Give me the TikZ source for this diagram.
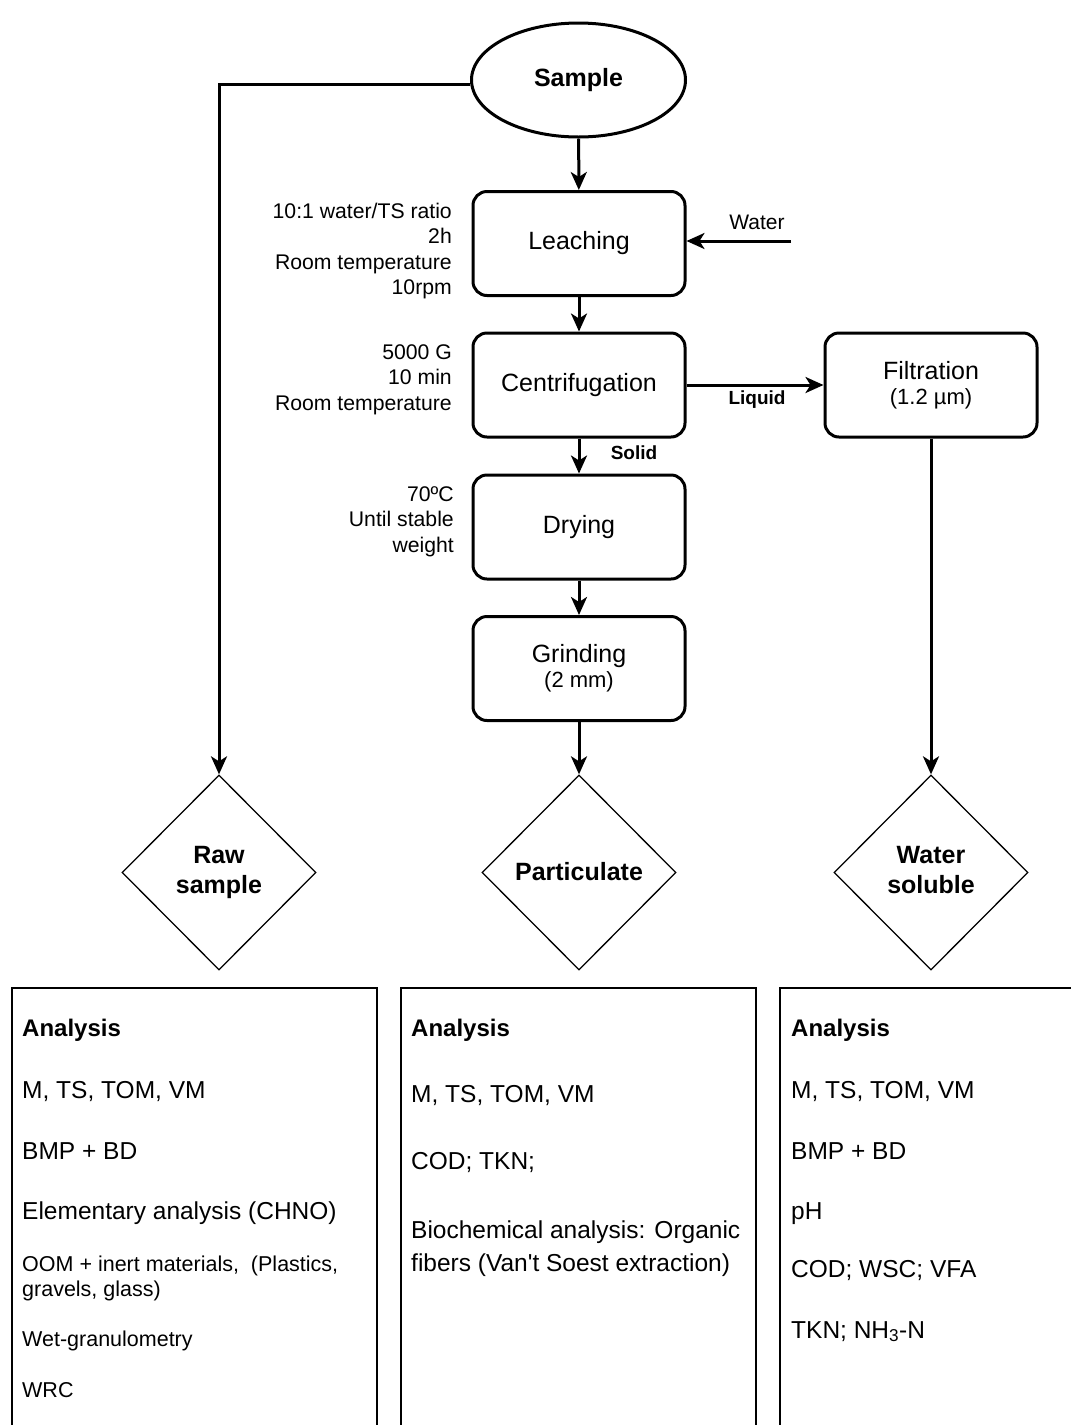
\documentclass[tikz,border=0pt]{standalone}
\usepackage{fontspec}
\setmainfont{Liberation Sans}
\usetikzlibrary{shapes.geometric,arrows.meta}
\begin{document}
\begin{tikzpicture}[x=1pt,y=-1pt,
  proc/.style={draw,line width=3pt,rounded corners=14pt,minimum width=212pt,minimum height=104pt,align=center,font=\fontsize{25}{28}\selectfont},
  dia/.style={draw,line width=1.3pt,diamond,inner sep=0pt,minimum width=194pt,minimum height=195pt,align=center,font=\fontsize{25}{30}\selectfont\bfseries},
  side/.style={anchor=east,align=right,font=\fontsize{21.2}{25.3}\selectfont},
  flow/.style={line width=3pt,-{Stealth[length=18pt,width=16pt,inset=5pt]}},
  tag/.style={font=\fontsize{19}{22}\selectfont\bfseries},
  boxline/.style={line width=1.3pt},
  big/.style={anchor=base west,inner sep=0pt,font=\fontsize{24.5}{28}\selectfont},
  small/.style={anchor=base west,inner sep=0pt,font=\fontsize{21.5}{25}\selectfont},
  head/.style={anchor=base west,inner sep=0pt,font=\fontsize{24}{28}\selectfont\bfseries}]
\useasboundingbox (0,0) rectangle (1071,1425);

% process nodes
\node[draw,ellipse,line width=3pt,minimum width=214pt,minimum height=114pt,font=\fontsize{25}{28}\selectfont\bfseries] (sample) at (578.5,80) {Sample};
\node[proc] (leach) at (579,243.5) {Leaching};
\node[proc] (centr) at (579,385) {Centrifugation};
\node[proc] (dry) at (579,527) {Drying};
\node[proc] (grind) at (579,668.5) {Grinding\\[-3pt]{\fontsize{22}{26}\selectfont (2 mm)}};
\node[proc] (filt) at (931,385) {Filtration\\[-3pt]{\fontsize{22}{26}\selectfont (1.2 µm)}};

% diamonds
\node[dia] (raw) at (219,872.5) {Raw\\sample};
\node[dia] (part) at (579,872.5) {\raisebox{3pt}{Particulate}};
\node[dia] (wsol) at (931,872.5) {\raisebox{3pt}{\begin{tabular}{@{}c@{}}Water\\soluble\end{tabular}}};

% side conditions
\node[side,inner sep=1pt] (c1) at (453,251) {10:1 water/TS ratio\\2h\\Room temperature\\10rpm};
\node[side,inner sep=1pt] (c2) at (453,379.5) {5000 G\\10 min\\Room temperature};
\node[side,inner sep=1pt] (c3) at (455,521.5) {70ºC\\Until stable\\weight};

% connectors
\coordinate (win) at (791,241);
\draw[flow] (sample) -- (leach);
\draw[flow] (win) -- (leach.east |- win);
\node[font=\fontsize{21}{25}\selectfont] (wlab) at (757,222) {Water};
\draw[flow] (leach) -- (centr);
\draw[flow] (centr.east) -- (filt.west);
\node[tag] (liq) at (757,400) {Liquid};
\draw[flow] (centr) -- (dry);
\node[tag] (sol) at (634,453) {Solid};
\draw[flow] (dry) -- (grind);
\draw[flow] (grind) -- (part.north);
\draw[flow] (filt) -- (wsol.north);
\draw[flow] (sample.west |- 0,84) -| (raw.north);

% analysis boxes (run off the bottom/right edge)
\draw[boxline] (12,1430) -- (12,988) -- (377,988) -- (377,1430);
\draw[boxline] (401,1430) -- (401,988) -- (756,988) -- (756,1430);
\draw[boxline] (780,1430) -- (780,988) -- (1075,988);

% box 1
\node[head] (a1) at (22,1036) {Analysis};
\node[big] (a1l1) at (22,1098) {M, TS, TOM, VM};
\node[big] (a1l2) at (22,1159) {BMP + BD};
\node[big] (a1l3) at (22,1219) {Elementary analysis (CHNO)};
\node[small] (a1l4) at (22,1271) {OOM + inert materials,\ \ (Plastics,};
\node[small] (a1l4b) at (22,1296) {gravels, glass)};
\node[small] (a1l5) at (22,1346) {Wet-granulometry};
\node[small] (a1l6) at (22,1397) {WRC};

% box 2
\node[head] (a2) at (411,1036) {Analysis};
\node[big] (a2l1) at (411,1102) {M, TS, TOM, VM};
\node[big] (a2l2) at (411,1169) {COD; TKN;};
\node[big] (a2l3) at (411,1238) {Biochemical analysis: Organic};
\node[big] (a2l3b) at (411,1271) {fibers (Van\textquotesingle t Soest extraction)};

% box 3
\node[head] (a3) at (791,1036) {Analysis};
\node[big] (a3l1) at (791,1098) {M, TS, TOM, VM};
\node[big] (a3l2) at (791,1159) {BMP + BD};
\node[big] (a3l3) at (791,1219) {pH};
\node[big] (a3l4) at (791,1277) {COD; WSC; VFA};
\node[big] (a3l5) at (791,1338) {TKN; NH\textsubscript{3}-N};
\end{tikzpicture}
\end{document}
